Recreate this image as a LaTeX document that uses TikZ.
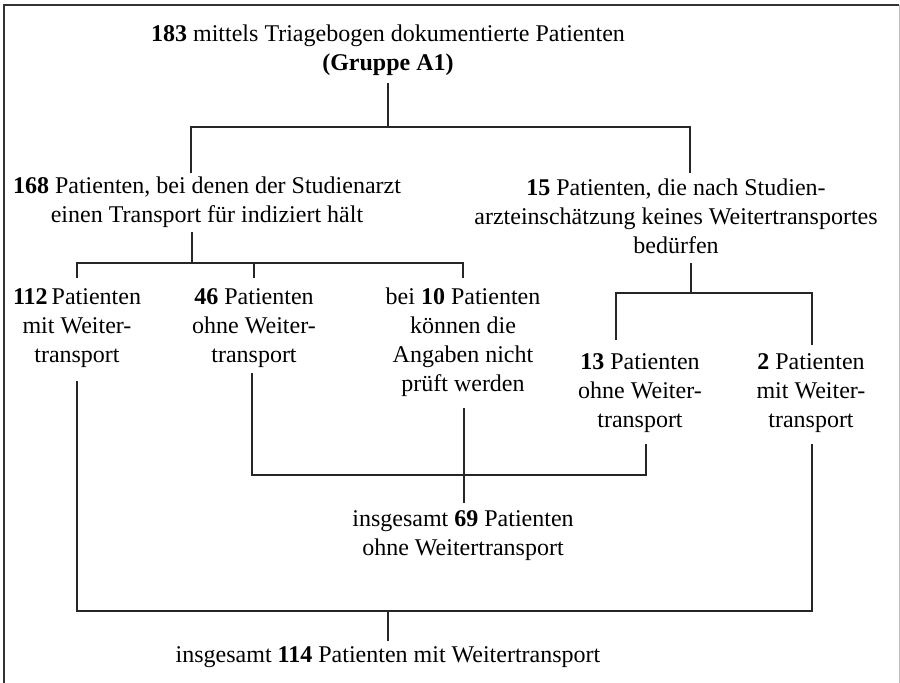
\documentclass[tikz,border=0pt]{standalone}
\usepackage{fontspec}
\setmainfont{Liberation Serif}
\begin{document}
\begin{tikzpicture}[x=1pt,y=-1pt,
  txt/.style={align=center,inner sep=0pt,font=\fontsize{24}{29}\selectfont},
  conn/.style={draw=black!85,line width=1.2pt}]
\useasboundingbox (0,0) rectangle (900,683);
% frame
\draw[black!80,line width=1.6pt] (4,683) -- (4,5) -- (899,5);
\draw[black!25,line width=1pt] (899,5) -- (899,683);
% nodes
\node[txt] (a) at (388,50) {\textbf{183} mittels Triagebogen dokumentierte Patienten\\\textbf{(Gruppe A1)}};
\node[txt] (b) at (207,202) {\textbf{168} Patienten, bei denen der Studienarzt\\einen Transport für indiziert hält};
\node[txt] (c) at (676,216) {\textbf{15} Patienten, die nach Studien-\\arzteinschätzung keines Weitertransportes\\bedürfen};
\node[txt] (d) at (77,328) {\textbf{112}\,Patienten\\mit Weiter-\\transport};
\node[txt] (e) at (254,328) {\textbf{46} Patienten\\ohne Weiter-\\transport};
\node[txt] (f) at (463,342) {bei \textbf{10} Patienten\\können die\\Angaben nicht\\prüft werden};
\node[txt] (g) at (640,393) {\textbf{13} Patienten\\ohne Weiter-\\transport};
\node[txt] (h) at (811,393) {\textbf{2} Patienten\\mit Weiter-\\transport};
\node[txt] (i) at (463,536) {insgesamt \textbf{69} Patienten\\ohne Weitertransport};
\node[txt] (k) at (388,657) {insgesamt \textbf{114} Patienten mit Weitertransport};
% junction coordinates
\coordinate (a1) at (388,83);  \coordinate (j1) at (388,127);
\coordinate (jb) at (191,127); \coordinate (jc) at (690,127);
\coordinate (b1) at (191,173); \coordinate (c1) at (690,173);
\coordinate (b2) at (192,232); \coordinate (j2) at (192,263);
\coordinate (jd) at (77,263);  \coordinate (d1) at (77,278);
\coordinate (je) at (254,263); \coordinate (e1) at (254,278);
\coordinate (jf) at (463,263); \coordinate (f1) at (463,278);
\coordinate (c2) at (691,263); \coordinate (j3) at (691,293);
\coordinate (jg) at (616,293); \coordinate (g1) at (616,340);
\coordinate (jh) at (812,293); \coordinate (h1) at (812,345);
\coordinate (d2) at (77,381);  \coordinate (jd2) at (77,611);
\coordinate (e2) at (252,373); \coordinate (je2) at (252,475);
\coordinate (g2) at (646,444); \coordinate (jg2) at (646,475);
\coordinate (f2) at (464,408); \coordinate (i1) at (464,503);
\coordinate (h2) at (812,444); \coordinate (jh2) at (812,611);
\coordinate (j4) at (388,611); \coordinate (k1) at (388,641);
% connectors
\draw[conn] (a1) -- (j1);
\draw[conn] (b1) -- (jb) -- (jc) -- (c1);
\draw[conn] (b2) -- (j2);
\draw[conn] (d1) -- (jd) -- (jf) -- (f1);
\draw[conn] (je) -- (e1);
\draw[conn] (c2) -- (j3);
\draw[conn] (g1) -- (jg) -- (jh) -- (h1);
\draw[conn] (e2) -- (je2) -- (jg2) -- (g2);
\draw[conn] (f2) -- (i1);
\draw[conn] (d2) -- (jd2) -- (jh2) -- (h2);
\draw[conn] (j4) -- (k1);
\end{tikzpicture}
\end{document}
